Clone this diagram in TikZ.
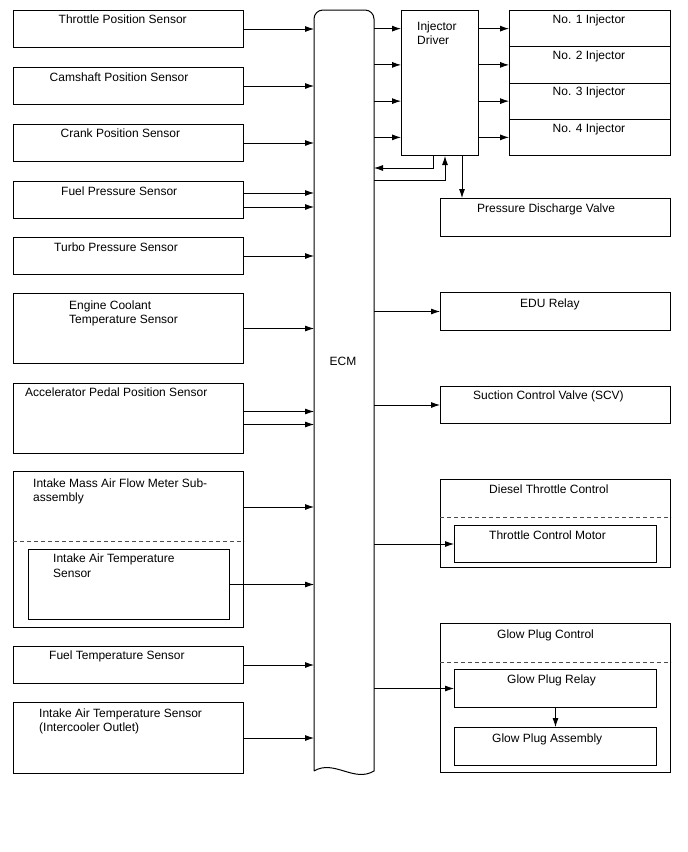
\documentclass[tikz,border=0pt]{standalone}
\usepackage{fontspec}
\setmainfont{Liberation Sans}
\usetikzlibrary{arrows.meta,calc}

\begin{document}
\begin{tikzpicture}[x=1pt,y=-1pt,
    every node/.style={font=\fontsize{12}{14.5}\selectfont},
    box/.style={draw,line width=1pt,anchor=north west,inner sep=0pt},
    txt/.style={anchor=north west,inner sep=0pt,align=left},
    arr/.style={-{Latex[length=9pt,width=6pt]},line width=.8pt},
    sep/.style={draw=black!70,line width=.8pt,dash pattern=on 4pt off 3pt}]
  \useasboundingbox (0,0) rectangle (688,852);

  % ECM
  \node[anchor=north west,inner sep=0pt,outer sep=0pt,
        minimum width=60pt,minimum height=761pt] (ecm) at (314,10) {};
  \draw[line width=1pt] (ecm.south west) [rounded corners=9pt] -- (ecm.north west)
     -- (ecm.north east) [sharp corners] -- (ecm.south east)
     .. controls (354,783) and (334,759) .. (ecm.south west);
  \node (ecmT) at (343,361) {ECM};

  % sensors
  \foreach \n/\t/\h in {tps/10/37,cmp/67/37,ckp/124/37,fps/181/37,tbp/237/37,
                        ect/293/70,app/383/70,imaf/471/156,ftp/646/37,iat/702/71}
    \node[box,minimum width=230pt,minimum height=\h pt] (\n) at (13,\t) {};
  \node[box,minimum width=201pt,minimum height=70pt] (imafs) at (28,549) {};
  \draw[sep] ($(imaf.north west)+(0,70)$) -- ($(imaf.north east)+(0,70)$);

  \node[txt] (tpsT) at (58.5,14.5) {Throttle Position Sensor};
  \node[txt] (cmpT) at (49.5,72.5) {Camshaft Position Sensor};
  \node[txt] (ckpT) at (60.5,128.5) {Crank Position Sensor};
  \node[txt] (fpsT) at (61,186.5) {Fuel Pressure Sensor};
  \node[txt] (tbpT) at (54,242.5) {Turbo Pressure Sensor};
  \node[txt] (ectT) at (69,300.5) {Engine Coolant\\Temperature Sensor};
  \node[txt] (appT) at (25,387.5) {Accelerator Pedal Position Sensor};
  \node[txt] (imafT) at (33,478.5) {Intake Mass Air Flow Meter Sub-\\assembly};
  \node[txt] (imafsT) at (53,554) {Intake Air Temperature\\Sensor};
  \node[txt] (ftpT) at (49,650.5) {Fuel Temperature Sensor};
  \node[txt] (iatT) at (39,708.5) {Intake Air Temperature Sensor\\(Intercooler Outlet)};

  \foreach \n in {tps,cmp,ckp,tbp,ect,imafs,ftp,iat}
    \draw[arr] (\n.east) -- (\n.east -| ecm.west);
  \foreach \d in {-7,7}
    \draw[arr] ($(fps.east)+(0,\d)$) coordinate (f) -- (f -| ecm.west);
  \foreach \d in {-7,6}
    \draw[arr] ($(app.east)+(0,\d)$) coordinate (a) -- (a -| ecm.west);
  \draw[arr] ($(imaf.north east)+(0,36)$) coordinate (m) -- (m -| ecm.west);

  % injector driver and injectors
  \node[box,minimum width=77pt,minimum height=145pt] (drv) at (401,10) {};
  \node[txt] (drvT) at (417,21.5) {Injector\\Driver};
  \foreach \i/\t in {1/10,2/46.25,3/82.5,4/118.75} {
    \node[box,minimum width=161pt,minimum height=36.25pt] (inj\i) at (509,\t) {};
    \node[txt] (inj\i T) at (552.5,\t+4.5) {No. \i\ Injector};
    \draw[arr] (inj\i.west -| ecm.east) -- (inj\i.west -| drv.west);
    \draw[arr] (inj\i.west -| drv.east) -- (inj\i.west);
  }
  \coordinate (fbA) at (0,168);
  \coordinate (fbB) at (0,180);
  \draw[arr] ($(drv.south west)+(32,0)$) |- (ecm.east |- fbA);
  \draw[arr] (ecm.east |- fbB) -| ($(drv.south west)+(44,0)$);

  \node[box,minimum width=230pt,minimum height=38pt] (pdv) at (440,198) {};
  \node[txt] (pdvT) at (477,203.5) {Pressure Discharge Valve};
  \draw[arr] ($(drv.south west)+(61,0)$) coordinate (p) -- (p |- pdv.north);

  % actuators
  \node[box,minimum width=230pt,minimum height=38pt] (edu) at (440,292) {};
  \node[txt] (eduT) at (520,298.5) {EDU Relay};
  \node[box,minimum width=230pt,minimum height=37pt] (scv) at (440,386) {};
  \node[txt] (scvT) at (473,390.5) {Suction Control Valve (SCV)};

  \node[box,minimum width=230pt,minimum height=88pt] (dtc) at (440,479) {};
  \node[txt] (dtcT) at (489,484.5) {Diesel Throttle Control};
  \draw[sep] ($(dtc.north west)+(0,38)$) -- ($(dtc.north east)+(0,38)$);
  \node[box,minimum width=202pt,minimum height=37pt] (tcm) at (454,525) {};
  \node[txt] (tcmT) at (489,530.5) {Throttle Control Motor};

  \node[box,minimum width=230pt,minimum height=149pt] (gpc) at (440,623) {};
  \node[txt] (gpcT) at (497,629.5) {Glow Plug Control};
  \draw[sep] ($(gpc.north west)+(0,39)$) -- ($(gpc.north east)+(0,39)$);
  \node[box,minimum width=202pt,minimum height=38pt] (gpr) at (454,669) {};
  \node[txt] (gprT) at (507,674.5) {Glow Plug Relay};
  \node[box,minimum width=202pt,minimum height=38pt] (gpa) at (454,727) {};
  \node[txt] (gpaT) at (492,733.5) {Glow Plug Assembly};

  \foreach \n in {edu,scv,tcm,gpr}
    \draw[arr] (\n.west -| ecm.east) -- (\n.west);
  \draw[arr] (gpr.south) -- (gpa.north);
\end{tikzpicture}
\end{document}
